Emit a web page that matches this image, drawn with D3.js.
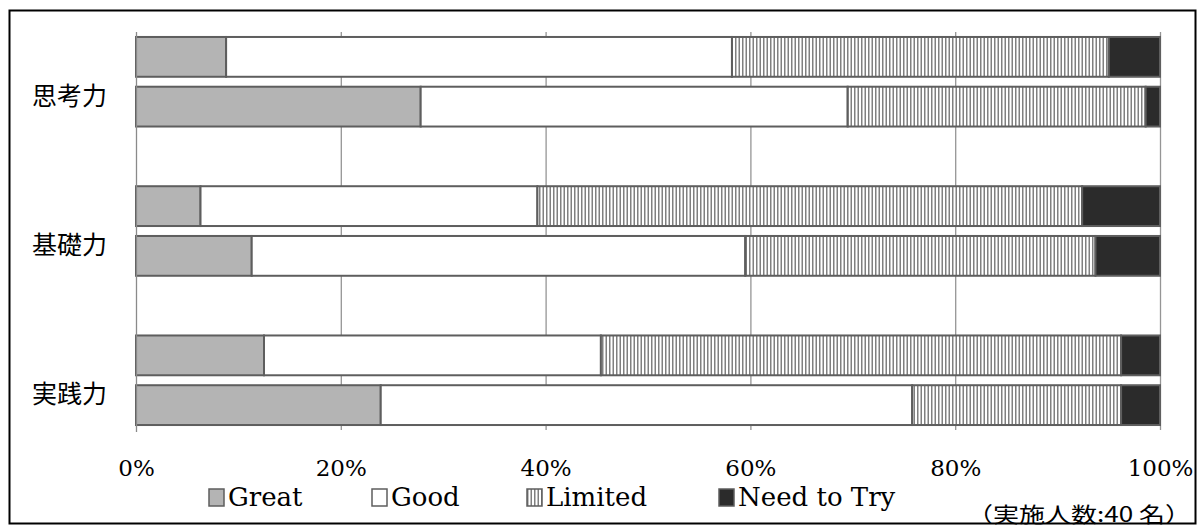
<!DOCTYPE html>
<html>
<head>
<meta charset="utf-8">
<script src="https://cdn.jsdelivr.net/npm/d3@7"></script>
<style>
  html, body { margin: 0; padding: 0; background: #fff; }
  svg { display: block; }
</style>
</head>
<body>
<svg id="chart" width="1203" height="531"></svg>
<script>
// Categories (two survey bars per category)
const categories = ["思考力", "基礎力", "実践力"];
const seriesNames = ["Great", "Good", "Limited", "Need to Try"];

// Percentages per bar: [upper bar, lower bar] for each category
const great   = [[8.8, 27.8], [6.3, 11.3], [12.5, 23.9]];
const good    = [[49.4, 41.7], [32.9, 48.2], [32.9, 51.9]];
const limited = [[36.8, 29.1], [53.2, 34.2], [50.8, 20.4]];
const needTry = [[5.0, 1.4], [7.6, 6.3], [3.8, 3.8]];

const tickValues = [0, 20, 40, 60, 80, 100];
const tickLabels = ["0%", "20%", "40%", "60%", "80%", "100%"];
const noteText = "（実施人数:40 名）";

const svg = d3.select("#chart");
const defs = svg.append("defs");

// vertical hatch for the "Limited" segments
const pat = defs.append("pattern")
  .attr("id", "vhatch")
  .attr("patternUnits", "userSpaceOnUse")
  .attr("width", 7).attr("height", 10);
pat.append("rect").attr("width", 7).attr("height", 10).attr("fill", "#ffffff");
pat.append("rect").attr("x", 0).attr("width", 1.5).attr("height", 10).attr("fill", "#808080");
pat.append("rect").attr("x", 3.5).attr("width", 1.5).attr("height", 10).attr("fill", "#808080");

const fills = ["#b4b4b4", "#ffffff", "url(#vhatch)", "#2b2b2b"];
const stroke = "#5e5e5e";

// outer frame
svg.append("rect")
  .attr("x", 9.5).attr("y", 10.5).attr("width", 1186).attr("height", 513)
  .attr("fill", "none").attr("stroke", "#000").attr("stroke-width", 2);

const plotTop = 32, plotBottom = 430;
const x = d3.scaleLinear().domain([0, 100]).range([136, 1160]);

// 8 slots: bar, bar, spacer, bar, bar, spacer, bar, bar
const slotCount = categories.length * 3 - 1;
const y = d3.scaleBand().domain(d3.range(slotCount))
  .range([plotTop, plotBottom]).paddingInner(0.2).paddingOuter(0.1);

// gridlines
svg.append("g").selectAll("line").data(tickValues.slice(1)).join("line")
  .attr("x1", d => x(d) + 0.5).attr("x2", d => x(d) + 0.5)
  .attr("y1", plotTop).attr("y2", plotBottom)
  .attr("stroke", "#959595").attr("stroke-width", 1.3);

// value axis labels (no line)
const xAxis = d3.axisBottom(x).tickValues(tickValues)
  .tickFormat((d, i) => tickLabels[i]).tickSize(0).tickPadding(0);
const gx = svg.append("g").attr("transform", `translate(0, ${plotBottom + 38})`).call(xAxis);
gx.select(".domain").remove();
gx.selectAll("text")
  .attr("dy", "0.35em")
  .attr("fill", "#000")
  .style("font-family", "'DejaVu Serif', 'Liberation Serif', serif")
  .style("font-size", "23px");

// bars
const rows = [];
categories.forEach((c, ci) => {
  [0, 1].forEach(bi => {
    const vals = [great[ci][bi], good[ci][bi], limited[ci][bi], needTry[ci][bi]];
    let acc = 0;
    vals.forEach((v, si) => {
      rows.push({ slot: ci * 3 + bi, series: si, x0: acc, x1: acc + v });
      acc += v;
    });
  });
});

svg.append("g").selectAll("rect").data(rows).join("rect")
  .attr("x", d => x(d.x0))
  .attr("y", d => y(d.slot))
  .attr("width", d => x(d.x1) - x(d.x0))
  .attr("height", y.bandwidth())
  .attr("fill", d => fills[d.series])
  .attr("stroke", stroke)
  .attr("stroke-width", 2);

// category axis line
svg.append("line")
  .attr("x1", 136.5).attr("x2", 136.5).attr("y1", plotTop).attr("y2", plotBottom + 2)
  .attr("stroke", "#8a8a8a").attr("stroke-width", 1.3);

// category labels
svg.append("g").selectAll("text").data(categories).join("text")
  .attr("x", 32)
  .attr("y", (d, i) => (y(i * 3) + y(i * 3 + 1) + y.bandwidth()) / 2 + 0.28 * y.step())
  .attr("dy", "0.36em")
  .attr("fill", "#000")
  .style("font-family", "'Noto Sans CJK JP', sans-serif")
  .style("font-size", "25px")
  .text(d => d);

// legend
const legendX = [209, 372, 527, 719];
const legendY = 497;
const lg = svg.append("g").selectAll("g").data(seriesNames).join("g")
  .attr("transform", (d, i) => `translate(${legendX[i]}, ${legendY})`);
lg.append("rect")
  .attr("x", 0).attr("y", -8).attr("width", 15).attr("height", 17)
  .attr("fill", (d, i) => fills[i])
  .attr("stroke", stroke).attr("stroke-width", 1.5);
lg.append("text")
  .attr("x", 19).attr("y", 0).attr("dy", "0.35em")
  .attr("fill", "#000")
  .style("font-family", "'DejaVu Serif', 'Liberation Serif', serif")
  .style("font-size", "26px")
  .text(d => d);

// respondent note
svg.append("text")
  .attr("transform", "translate(1079, 514) scale(1.24, 1)")
  .attr("dy", "0.36em")
  .attr("text-anchor", "middle")
  .attr("fill", "#000")
  .style("font-family", "'Noto Sans CJK JP', sans-serif")
  .style("font-size", "21px")
  .text(noteText);
</script>
</body>
</html>
